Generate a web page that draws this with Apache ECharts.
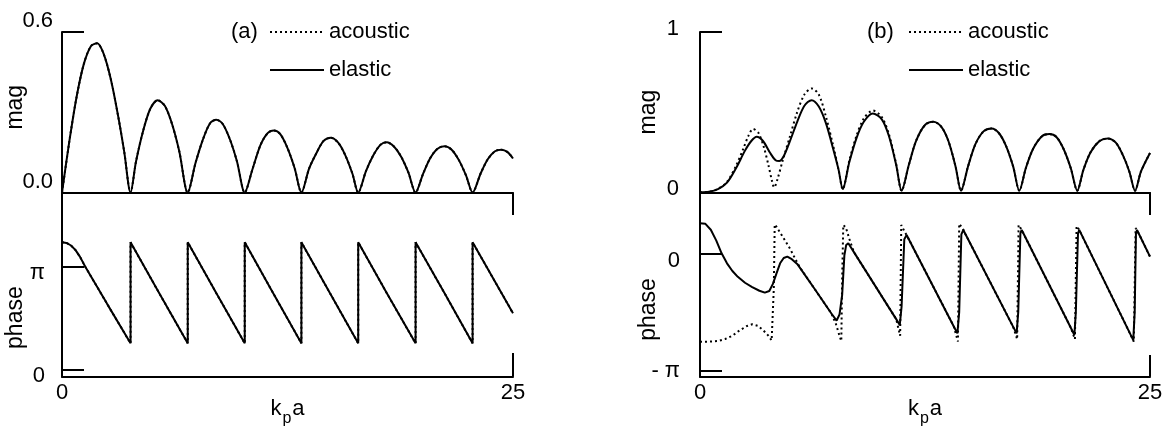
<!DOCTYPE html>
<html>
<head>
<meta charset="utf-8">
<script src="https://cdn.jsdelivr.net/npm/echarts@6/dist/echarts.min.js"></script>
<style>
html,body{margin:0;padding:0;background:#fff;}
#chart{width:1162px;height:433px;}
</style>
</head>
<body>
<div id="chart"></div>
<script>
// ---------- tick values / labels ----------
const xTickValues = [0, 25];
const xTickLabels = ['0', '25'];
const magATicks = [0, 0.6];
const magALabels = ['0.0', '0.6'];
const phaseATicks = [0, 1];          // phase in units of pi
const phaseALabels = ['0', 'π'];
const magBTicks = [0, 1];
const magBLabels = ['0', '1'];
const phaseBTicks = [-1, 0];
const phaseBLabels = ['- π', '0'];
const seriesNames = ['acoustic', 'elastic'];

// ---------- panel (a): acoustic and elastic curves coincide ----------
const magA = [[0,0],[0.4,0.188],[0.8,0.354],[1.2,0.478],[1.6,0.547],[1.95,0.558],[2.3,0.52],[2.7,0.425],[3.1,0.29],[3.45,0.152],[3.8,0],
[4.1,0.115],[4.5,0.231],[4.9,0.314],[5.3,0.345],[5.7,0.324],[6.1,0.256],[6.5,0.154],[6.97,0],
[7.4,0.11],[7.8,0.196],[8.2,0.258],[8.55,0.272],[8.9,0.257],[9.3,0.2],[9.7,0.116],[10.13,0],
[10.55,0.085],[11.0,0.177],[11.4,0.222],[11.75,0.232],[12.1,0.218],[12.5,0.166],[12.9,0.09],[13.27,0],
[13.7,0.09],[14.1,0.147],[14.5,0.193],[14.9,0.205],[15.3,0.187],[15.7,0.14],[16.1,0.07],[16.42,0],
[16.85,0.08],[17.25,0.138],[17.65,0.178],[18.0,0.188],[18.4,0.172],[18.8,0.134],[19.2,0.075],[19.6,0],
[20.0,0.067],[20.4,0.127],[20.8,0.163],[21.2,0.173],[21.6,0.16],[22.0,0.121],[22.4,0.063],[22.76,0],
[23.2,0.07],[23.6,0.124],[24.0,0.154],[24.35,0.16],[24.7,0.151],[25,0.127]];

const phaseA = [[0,1.236],[0.25,1.23],[0.5,1.205],[0.75,1.16],[1.0,1.095],[1.29,1.0],[2.5,0.64],[3.8,0.258],
[3.8,1.236],[5.4,0.74],[6.97,0.258],
[6.97,1.236],[8.55,0.745],[10.13,0.258],
[10.13,1.236],[11.7,0.745],[13.27,0.258],
[13.27,1.236],[14.85,0.745],[16.42,0.258],
[16.42,1.236],[18.0,0.745],[19.6,0.258],
[19.6,1.236],[21.2,0.745],[22.76,0.258],
[22.76,1.236],[25,0.549]];

// ---------- panel (b) ----------
const magBElastic = [[0,0],[0.5,0.003],[1.0,0.02],[1.5,0.06],[2.0,0.15],[2.5,0.26],[2.85,0.32],[3.15,0.346],[3.5,0.32],[3.9,0.245],[4.2,0.2],[4.4,0.195],[4.65,0.225],[5.0,0.32],[5.4,0.44],[5.8,0.54],[6.2,0.575],[6.6,0.535],[7.0,0.43],[7.4,0.27],[7.7,0.14],[7.93,0.02],
[8.3,0.19],[8.7,0.34],[9.1,0.44],[9.6,0.492],[10.1,0.455],[10.5,0.35],[10.9,0.17],[11.2,0.01],
[11.6,0.17],[12.0,0.32],[12.5,0.42],[12.96,0.44],[13.4,0.41],[13.8,0.32],[14.2,0.16],[14.5,0.01],
[14.9,0.165],[15.3,0.3],[15.75,0.38],[16.2,0.398],[16.6,0.37],[17.0,0.29],[17.4,0.16],[17.74,0.01],
[18.1,0.15],[18.5,0.27],[19.0,0.35],[19.41,0.363],[19.8,0.345],[20.2,0.27],[20.6,0.15],[20.96,0.01],
[21.3,0.14],[21.7,0.25],[22.2,0.32],[22.65,0.336],[23.1,0.31],[23.5,0.23],[23.85,0.13],[24.17,0.01],
[24.5,0.13],[25,0.245]];

const magBAcoustic = [[0,0],[0.5,0.003],[1.0,0.022],[1.5,0.065],[2.0,0.165],[2.4,0.27],[2.7,0.355],[2.95,0.395],[3.25,0.37],[3.55,0.28],[3.8,0.17],[4.0,0.07],[4.12,0.03],[4.3,0.08],[4.6,0.2],[5.0,0.35],[5.4,0.5],[5.8,0.61],[6.2,0.648],[6.6,0.61],[7.0,0.47],[7.4,0.29],[7.7,0.14],[7.93,0.02],
[8.3,0.2],[8.7,0.355],[9.1,0.46],[9.6,0.51],[10.1,0.47],[10.5,0.36],[10.9,0.175],[11.2,0.01],
[11.6,0.17],[12.0,0.32],[12.5,0.42],[12.96,0.44],[13.4,0.41],[13.8,0.32],[14.2,0.16],[14.5,0.01],
[14.9,0.165],[15.3,0.3],[15.75,0.38],[16.2,0.398],[16.6,0.37],[17.0,0.29],[17.4,0.16],[17.74,0.01],
[18.1,0.15],[18.5,0.27],[19.0,0.35],[19.41,0.363],[19.8,0.345],[20.2,0.27],[20.6,0.15],[20.96,0.01],
[21.3,0.14],[21.7,0.25],[22.2,0.32],[22.65,0.336],[23.1,0.31],[23.5,0.23],[23.85,0.13],[24.17,0.01],
[24.5,0.13],[25,0.245]];

const phaseBElastic = [[0,0.255],[0.3,0.25],[0.6,0.2],[0.9,0.11],[1.2,0],[1.5,-0.085],[1.8,-0.15],[2.1,-0.2],[2.5,-0.25],[2.9,-0.287],[3.3,-0.318],[3.6,-0.334],[3.85,-0.32],[4.05,-0.26],[4.25,-0.17],[4.45,-0.085],[4.65,-0.04],[4.85,-0.028],[5.1,-0.05],[5.4,-0.09],[6.4,-0.31],[7.3,-0.511],[7.59,-0.572],[7.75,-0.52],[7.9,-0.35],[8.02,-0.02],[8.12,0.07],[8.24,0.085],[8.55,0.01],
[10.9,-0.559],[11.1,-0.609],[11.2,-0.45],[11.35,0.12],[11.48,0.155],[11.55,0.134],
[14.1,-0.621],[14.3,-0.68],[14.4,-0.5],[14.52,0.16],[14.63,0.198],[14.75,0.162],
[17.4,-0.625],[17.59,-0.68],[17.68,-0.5],[17.8,0.17],[17.87,0.198],[17.95,0.174],
[20.6,-0.632],[20.8,-0.694],[20.88,-0.5],[21.0,0.17],[21.07,0.198],[21.15,0.173],
[23.9,-0.684],[24.07,-0.737],[24.15,-0.5],[24.22,0.17],[24.28,0.198],[24.4,0.16],[25,-0.028]];

const phaseBAcoustic = [[0,-0.751],[0.5,-0.75],[1.0,-0.745],[1.4,-0.728],[1.8,-0.7],[2.2,-0.655],[2.6,-0.618],[2.9,-0.603],[3.2,-0.615],[3.5,-0.652],[3.8,-0.7],[3.98,-0.74],[4.1,-0.3],[4.15,0.245],[4.25,0.225],[4.6,0.14],[5.0,0.04],[5.3,-0.05],[5.55,-0.12],[6.4,-0.31],[7.3,-0.511],[7.55,-0.6],[7.75,-0.7],[7.85,-0.745],[7.9,-0.2],[7.96,0.24],[8.1,0.22],[8.3,0.12],[8.55,0.01],
[10.9,-0.559],[11.12,-0.7],[11.18,0.24],[11.35,0.19],[11.55,0.134],
[14.1,-0.621],[14.33,-0.75],[14.4,0.25],[14.6,0.21],[14.75,0.162],
[17.4,-0.625],[17.62,-0.73],[17.7,0.24],[17.87,0.2],[17.95,0.174],
[20.6,-0.632],[20.83,-0.73],[20.92,0.23],[21.07,0.2],[21.15,0.173],
[23.9,-0.684],[24.1,-0.75],[24.2,0.215],[24.4,0.16],[25,-0.028]];

// ---------- styling ----------
const FONT = "'Liberation Sans', Arial, Helvetica, sans-serif";
const BLACK = '#000';
const FS = 22;
const DOTS = [2, 3];
const axisLineStyle = { color: BLACK, width: 2 };

function lab(vals, labels) { return v => { const i = vals.indexOf(v); return i >= 0 ? labels[i] : ''; }; }
function richLab(vals, labels, keys) { return v => { const i = vals.indexOf(v); return i >= 0 ? '{' + keys[i] + '|' + labels[i] + '}' : ''; }; }

function xAxisTop(gi) {
  return { gridIndex: gi, type: 'value', min: 0, max: 25,
    axisLine: { show: true, onZero: false, lineStyle: axisLineStyle },
    axisTick: { show: false }, axisLabel: { show: false }, splitLine: { show: false } };
}
function xAxisBottom(gi) {
  return { gridIndex: gi, type: 'value', min: 0, max: 25,
    axisLine: { show: true, onZero: false, lineStyle: axisLineStyle },
    axisTick: { show: false }, splitLine: { show: false },
    axisLabel: { customValues: xTickValues, formatter: lab(xTickValues, xTickLabels),
      fontSize: FS, color: BLACK, fontFamily: FONT, margin: 5 },
    name: '{n|k}{s|p}{n|a}', nameLocation: 'middle', nameGap: 21, nameMoveOverlap: false,
    nameTextStyle: { color: BLACK, fontFamily: FONT, verticalAlign: 'top', rich: {
      n: { fontSize: FS, fontFamily: FONT, color: BLACK, lineHeight: 22, verticalAlign: 'top' },
      s: { fontSize: 16, fontFamily: FONT, color: BLACK, lineHeight: 29, verticalAlign: 'bottom', padding: [0, 1, 0, 1] } } } };
}
function yAxis(gi, min, max, ticks, labels, labelOpts, name, nameGap, namePad) {
  return { gridIndex: gi, type: 'value', min: min, max: max,
    axisLine: { show: true, onZero: false, lineStyle: axisLineStyle },
    axisTick: { show: true, inside: true, length: 22, customValues: ticks, lineStyle: { color: BLACK, width: 2 } },
    splitLine: { show: false },
    axisLabel: Object.assign({ customValues: ticks, formatter: lab(ticks, labels),
      fontSize: FS, color: BLACK, fontFamily: FONT }, labelOpts),
    name: name, nameLocation: 'middle', nameGap: nameGap, nameRotate: 90, nameMoveOverlap: false,
    nameTextStyle: { fontSize: 23, color: BLACK, fontFamily: FONT, padding: namePad } };
}
function lineSeries(name, xi, data, dotted, smooth, z) {
  return { name: name, type: 'line', xAxisIndex: xi, yAxisIndex: xi, data: data,
    symbol: 'none', showSymbol: false, smooth: smooth, z: z, silent: true,
    itemStyle: { color: BLACK },
    lineStyle: { color: BLACK, width: 2, type: dotted ? DOTS : 'solid', cap: 'butt' } };
}
function frameMark(x, segs) {
  return { silent: true, symbol: ['none', 'none'], animation: false,
    label: { show: false }, lineStyle: { color: BLACK, width: 2, type: 'solid' },
    emphasis: { disabled: true },
    data: segs.map(s => [{ coord: [x, s[0]] }, { coord: [x, s[1]] }]) };
}

const phaseAMin = -0.065, phaseAMax = 1.718;
const phaseBMin = -1.048, phaseBMax = 0.518;

const sA_ac_mag = lineSeries(seriesNames[0], 0, magA, true, 0.3, 2);
const sA_el_mag = lineSeries(seriesNames[1], 0, magA, false, 0.3, 3);
const sA_ac_ph = lineSeries(seriesNames[0], 1, phaseA, true, false, 2);
const sA_el_ph = lineSeries(seriesNames[1], 1, phaseA, false, false, 3);
sA_el_ph.markLine = frameMark(25, [[phaseAMax, 1.50], [0.165, phaseAMin]]);
const sB_ac_mag = lineSeries(seriesNames[0], 2, magBAcoustic, true, 0.3, 2);
const sB_el_mag = lineSeries(seriesNames[1], 2, magBElastic, false, 0.3, 3);
const sB_ac_ph = lineSeries(seriesNames[0], 3, phaseBAcoustic, true, false, 2);
const sB_el_ph = lineSeries(seriesNames[1], 3, phaseBElastic, false, false, 3);
sB_el_ph.markLine = frameMark(25, [[phaseBMax, 0.325], [-0.864, phaseBMin]]);

const legendBase = { orient: 'vertical', itemWidth: 54, itemHeight: 14, itemGap: 16, padding: 0,
  selectedMode: false, data: seriesNames,
  itemStyle: { opacity: 0 },
  textStyle: { fontSize: FS, color: BLACK, fontFamily: FONT, lineHeight: 22 } };

const titleStyle = { fontSize: FS, fontWeight: 'normal', color: BLACK, fontFamily: FONT, lineHeight: 22 };

const option = {
  animation: false,
  backgroundColor: '#fff',
  title: [
    { text: '(a)', left: 231, top: 21, padding: 0, textStyle: titleStyle },
    { text: '(b)', left: 867, top: 21, padding: 0, textStyle: titleStyle }
  ],
  legend: [
    Object.assign({ left: 269, top: 21 }, legendBase),
    Object.assign({ left: 908, top: 21 }, legendBase)
  ],
  grid: [
    { left: 62, top: 32, width: 451, height: 160.5, outerBoundsMode: 'none' },
    { left: 62, top: 192.5, width: 451, height: 184.2, outerBoundsMode: 'none' },
    { left: 700, top: 32, width: 450, height: 160.3, outerBoundsMode: 'none' },
    { left: 700, top: 192.3, width: 450, height: 184.4, outerBoundsMode: 'none' }
  ],
  xAxis: [xAxisTop(0), xAxisBottom(1), xAxisTop(2), xAxisBottom(3)],
  yAxis: [
    yAxis(0, 0, 0.6, magATicks, magALabels, { margin: 9, verticalAlign: 'bottom', lineHeight: 22 }, 'mag', 35, [0, 0, 0, 10]),
    yAxis(1, phaseAMin, phaseAMax, phaseATicks, phaseALabels, { margin: 17, verticalAlign: 'top', lineHeight: 12 }, 'phase', 35, [0, 66, 0, 0]),
    yAxis(2, 0, 1, magBTicks, magBLabels, { margin: 21, verticalAlign: 'bottom', lineHeight: 6 }, 'mag', 40, [0, 0, 0, 0]),
    yAxis(3, phaseBMin, phaseBMax, phaseBTicks, phaseBLabels, {
      margin: 20, verticalAlign: 'middle',
      formatter: richLab(phaseBTicks, phaseBLabels, ['u', 'd']),
      rich: {
        u: { fontSize: FS, fontFamily: FONT, color: BLACK, lineHeight: 16 },
        d: { fontSize: FS, fontFamily: FONT, color: BLACK, lineHeight: 16, padding: [16, 0, 0, 0] }
      } }, 'phase', 40, [0, 50, 0, 0])
  ],
  series: [sA_ac_mag, sA_el_mag, sA_ac_ph, sA_el_ph, sB_ac_mag, sB_el_mag, sB_ac_ph, sB_el_ph]
};

const chart = echarts.init(document.getElementById('chart'), null, { renderer: 'canvas' });
chart.setOption(option);
</script>
</body>
</html>
